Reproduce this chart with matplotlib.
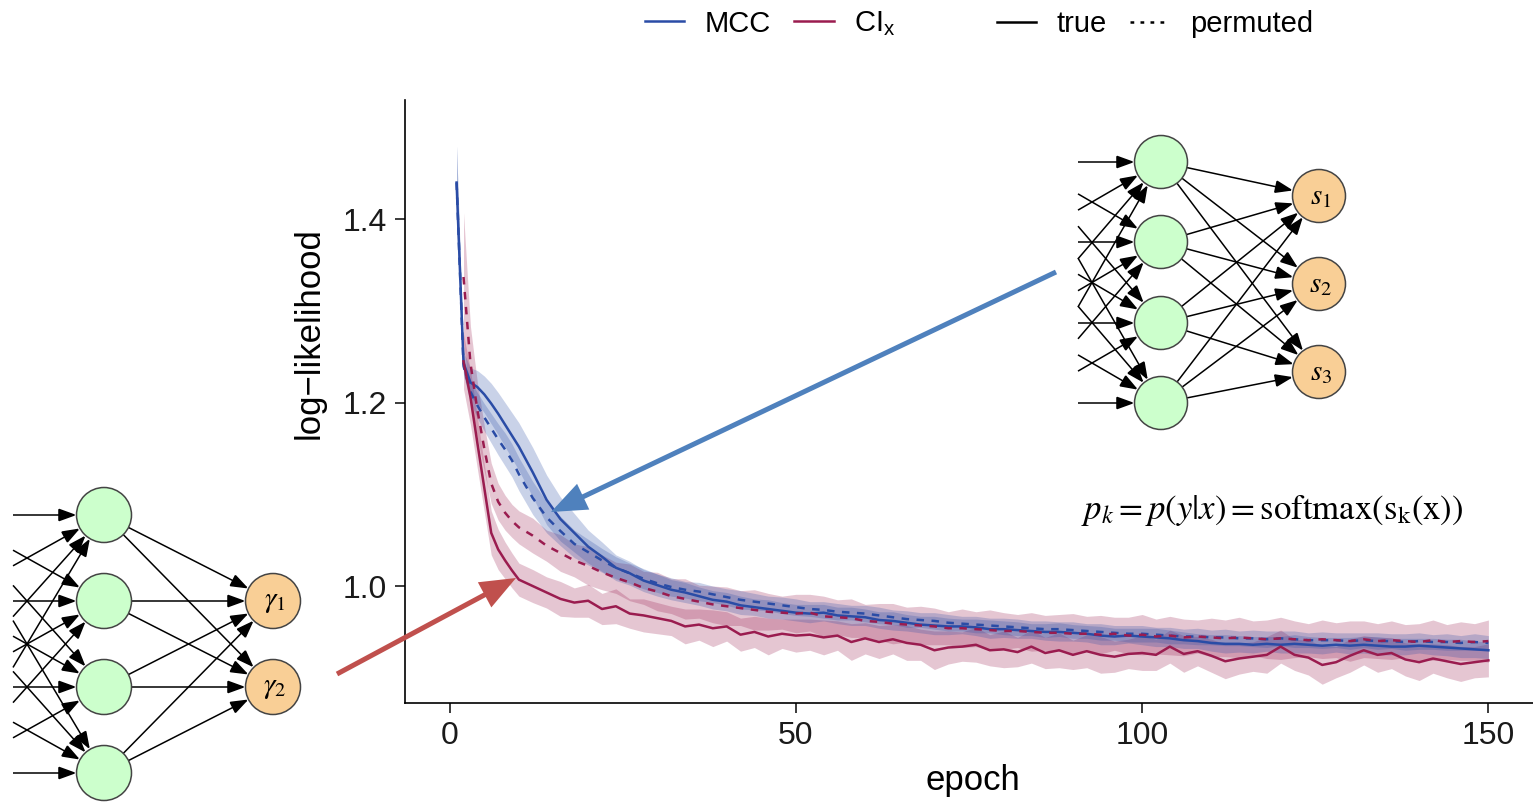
import numpy as np
import matplotlib
matplotlib.use('Agg')
import matplotlib.pyplot as plt
from matplotlib.lines import Line2D
from matplotlib.patches import Circle, FancyArrowPatch

plt.rcParams['font.family'] = ['Liberation Sans', 'DejaVu Sans']

# ---- data ---------------------------------------------------------------
# MCC curves start at epoch 1, CI_x curves at epoch 2
epoch = list(range(1, 10)) + list(range(10, 151, 2))
epoch_ci = epoch[1:]

mcc_true = [1.440, 1.243, 1.222, 1.217, 1.209, 1.199, 1.188, 1.176, 1.164, 1.152,
            1.124, 1.094, 1.073, 1.058, 1.043, 1.032, 1.020, 1.014, 1.006, 1.001,
            0.996, 0.993, 0.989, 0.985, 0.983, 0.979, 0.977, 0.975, 0.973, 0.971,
            0.970, 0.971, 0.968, 0.967, 0.966, 0.963, 0.962, 0.960, 0.958, 0.957,
            0.956, 0.956, 0.955, 0.953, 0.953, 0.952, 0.951, 0.950, 0.950, 0.949,
            0.948, 0.946, 0.945, 0.946, 0.945, 0.944, 0.943, 0.941, 0.940, 0.938,
            0.937, 0.937, 0.936, 0.937, 0.936, 0.937, 0.936, 0.935, 0.936, 0.935,
            0.936, 0.935, 0.934, 0.934, 0.935, 0.934, 0.933, 0.932, 0.931, 0.930]
mcc_perm = [1.440, 1.240, 1.212, 1.197, 1.184, 1.172, 1.160, 1.149, 1.137, 1.122,
            1.096, 1.075, 1.060, 1.046, 1.037, 1.028, 1.020, 1.014, 1.008, 1.003,
            0.999, 0.996, 0.994, 0.991, 0.988, 0.985, 0.983, 0.981, 0.979, 0.977,
            0.975, 0.974, 0.972, 0.971, 0.970, 0.968, 0.966, 0.964, 0.963, 0.962,
            0.960, 0.959, 0.958, 0.957, 0.956, 0.955, 0.954, 0.953, 0.953, 0.952,
            0.951, 0.950, 0.949, 0.948, 0.948, 0.947, 0.946, 0.945, 0.945, 0.944,
            0.944, 0.943, 0.943, 0.942, 0.943, 0.942, 0.941, 0.941, 0.941, 0.940,
            0.941, 0.940, 0.940, 0.939, 0.940, 0.939, 0.939, 0.938, 0.939, 0.938]
ci_true = [1.245, 1.206, 1.156, 1.107, 1.058, 1.040, 1.028, 1.017, 1.007,
           1.000, 0.993, 0.986, 0.982, 0.984, 0.975, 0.978, 0.970, 0.968, 0.965,
           0.962, 0.956, 0.958, 0.954, 0.956, 0.947, 0.950, 0.945, 0.948, 0.946,
           0.947, 0.944, 0.946, 0.939, 0.943, 0.939, 0.942, 0.938, 0.936, 0.930,
           0.933, 0.934, 0.936, 0.930, 0.931, 0.928, 0.934, 0.927, 0.930, 0.925,
           0.929, 0.925, 0.923, 0.926, 0.927, 0.925, 0.934, 0.926, 0.929, 0.924,
           0.918, 0.921, 0.923, 0.925, 0.934, 0.925, 0.922, 0.914, 0.917, 0.924,
           0.930, 0.925, 0.927, 0.920, 0.917, 0.921, 0.918, 0.915, 0.917, 0.919]
ci_perm = [1.337, 1.243, 1.192, 1.150, 1.112, 1.092, 1.080, 1.071, 1.064,
           1.055, 1.044, 1.036, 1.028, 1.022, 1.015, 1.009, 1.004, 0.998, 0.994,
           0.989, 0.986, 0.983, 0.980, 0.978, 0.976, 0.974, 0.972, 0.971, 0.970,
           0.971, 0.967, 0.966, 0.965, 0.962, 0.961, 0.959, 0.958, 0.957, 0.956,
           0.954, 0.954, 0.953, 0.952, 0.951, 0.951, 0.950, 0.949, 0.949, 0.948,
           0.948, 0.947, 0.948, 0.946, 0.947, 0.945, 0.946, 0.944, 0.945, 0.944,
           0.943, 0.944, 0.943, 0.942, 0.943, 0.942, 0.941, 0.942, 0.941, 0.940,
           0.942, 0.940, 0.941, 0.940, 0.939, 0.941, 0.939, 0.940, 0.939, 0.940]

# ribbon half widths
hw_mcc_true = [0.040, 0.012, 0.016, 0.018, 0.020, 0.022, 0.023, 0.024, 0.025, 0.026,
               0.027, 0.027, 0.024, 0.021, 0.018, 0.016, 0.014, 0.013, 0.012, 0.012,
               0.011, 0.011, 0.010, 0.010, 0.010, 0.010, 0.009, 0.010, 0.009, 0.009,
               0.010, 0.009, 0.009, 0.010, 0.009, 0.009, 0.010, 0.009, 0.009, 0.010,
               0.009, 0.008, 0.009, 0.010, 0.009, 0.009, 0.008, 0.009, 0.010, 0.009,
               0.009, 0.010, 0.009, 0.008, 0.009, 0.010, 0.009, 0.009, 0.008, 0.009,
               0.010, 0.009, 0.009, 0.008, 0.009, 0.010, 0.009, 0.009, 0.008, 0.009,
               0.009, 0.010, 0.009, 0.009, 0.008, 0.009, 0.009, 0.010, 0.009, 0.009]
hw_mcc_perm = [0.040, 0.010, 0.012, 0.014, 0.015, 0.016, 0.017, 0.018, 0.018, 0.018,
               0.018, 0.017, 0.016, 0.015, 0.014, 0.013, 0.012, 0.011, 0.011, 0.010,
               0.010, 0.009, 0.010, 0.009, 0.009, 0.010, 0.009, 0.008, 0.009, 0.009,
               0.008, 0.009, 0.009, 0.008, 0.009, 0.009, 0.008, 0.009, 0.008, 0.009,
               0.009, 0.008, 0.009, 0.008, 0.009, 0.009, 0.008, 0.009, 0.008, 0.009,
               0.008, 0.009, 0.008, 0.009, 0.009, 0.008, 0.009, 0.008, 0.009, 0.008,
               0.009, 0.008, 0.009, 0.009, 0.008, 0.009, 0.008, 0.009, 0.008, 0.009,
               0.008, 0.009, 0.008, 0.009, 0.009, 0.008, 0.009, 0.008, 0.009, 0.008]
hw_ci_true = [0.030, 0.030, 0.028, 0.026, 0.024, 0.022, 0.020, 0.019, 0.018,
              0.018, 0.017, 0.019, 0.016, 0.018, 0.017, 0.019, 0.016, 0.018, 0.017,
              0.016, 0.019, 0.017, 0.020, 0.016, 0.018, 0.017, 0.020, 0.016, 0.018,
              0.017, 0.019, 0.016, 0.020, 0.017, 0.018, 0.016, 0.019, 0.017, 0.021,
              0.018, 0.016, 0.019, 0.017, 0.020, 0.016, 0.018, 0.017, 0.019, 0.016,
              0.018, 0.020, 0.017, 0.016, 0.019, 0.017, 0.018, 0.020, 0.016, 0.018,
              0.019, 0.017, 0.016, 0.020, 0.018, 0.017, 0.019, 0.021, 0.017, 0.018,
              0.016, 0.019, 0.017, 0.018, 0.020, 0.016, 0.018, 0.019, 0.017, 0.018]
hw_ci_perm = [0.070, 0.040, 0.030, 0.025, 0.022, 0.020, 0.019, 0.018, 0.018,
              0.019, 0.017, 0.020, 0.018, 0.021, 0.019, 0.017, 0.020, 0.018, 0.021,
              0.019, 0.022, 0.018, 0.020, 0.021, 0.019, 0.022, 0.020, 0.018, 0.021,
              0.020, 0.022, 0.019, 0.021, 0.018, 0.020, 0.022, 0.019, 0.021, 0.020,
              0.018, 0.021, 0.019, 0.022, 0.020, 0.018, 0.021, 0.019, 0.020, 0.022,
              0.019, 0.021, 0.018, 0.020, 0.022, 0.019, 0.021, 0.020, 0.018, 0.021,
              0.020, 0.022, 0.019, 0.021, 0.023, 0.020, 0.018, 0.021, 0.019, 0.022,
              0.020, 0.019, 0.021, 0.018, 0.020, 0.022, 0.019, 0.021, 0.020, 0.023]

xticks = [0, 50, 100, 150]
yticks = [1.0, 1.2, 1.4]
ytick_labels = ['1.0', '1.2', '1.4']

BLUE = '#2a4ca6'
RED = '#9a1c4f'
LW = 1.8

# ---- figure ---------------------------------------------------------------
fig = plt.figure(figsize=(15.33, 8.02), dpi=100)
# panel runs a bit past the right edge of the canvas, as in the reference
ax = fig.add_axes([405 / 1533, 99 / 802, 1135 / 1533, 603 / 802])

def band(x, y, hw, color):
    y = np.array(y)
    hw = np.array(hw)
    ax.fill_between(x, y - hw, y + hw, color=color, alpha=0.25, linewidth=0)

band(epoch_ci, ci_true, hw_ci_true, RED)
band(epoch_ci, ci_perm, hw_ci_perm, RED)
band(epoch, mcc_true, hw_mcc_true, BLUE)
band(epoch, mcc_perm, hw_mcc_perm, BLUE)

ax.plot(epoch, mcc_true, color=BLUE, lw=LW)
ax.plot(epoch, mcc_perm, color=BLUE, lw=LW, dashes=(3, 3))
ax.plot(epoch_ci, ci_true, color=RED, lw=LW)
ax.plot(epoch_ci, ci_perm, color=RED, lw=LW, dashes=(3, 3))

ax.set_xlim(-6.45, 157.45)
ax.set_ylim(0.8725, 1.530)
ax.set_xticks(xticks)
ax.set_yticks(yticks)
ax.set_yticklabels(ytick_labels)
for s in ['top', 'right']:
    ax.spines[s].set_visible(False)
for s in ['left', 'bottom']:
    ax.spines[s].set_linewidth(1.2)
ax.tick_params(length=7, width=1.2, pad=6, labelsize=23, colors='#1a1a1a')
ax.set_xlabel('epoch', fontsize=25, labelpad=9)
# the y title sits above the panel centre in the reference
ax.set_ylabel('log\u2212likelihood', fontsize=25, labelpad=12, y=0.614)

# legends on top
col_handles = [Line2D([], [], color=BLUE, lw=LW), Line2D([], [], color=RED, lw=LW)]
leg1 = fig.legend(col_handles, ['MCC', r'CI$_\mathregular{x}$'], loc='center left',
                  bbox_to_anchor=(645 / 1533, 1 - 24 / 802), ncol=2, frameon=False,
                  fontsize=21, handlelength=1.35, handletextpad=0.7, columnspacing=0.8,
                  borderpad=0, borderaxespad=0)
lt_handles = [Line2D([], [], color='black', lw=LW),
              Line2D([], [], color='black', lw=LW, dashes=(1.5, 2.5))]
leg2 = fig.legend(lt_handles, ['true', 'permuted'], loc='center left',
                  bbox_to_anchor=(997 / 1533, 1 - 24 / 802), ncol=2, frameon=False,
                  fontsize=21, handlelength=1.35, handletextpad=0.7, columnspacing=0.8,
                  borderpad=0, borderaxespad=0)

# ---- overlay in pixel coords for the network sketches and arrows ---------
ov = fig.add_axes([0, 0, 1, 1])
ov.set_xlim(0, 1533)
ov.set_ylim(802, 0)
ov.set_axis_off()

def arrow(p0, p1, lw=1.1, color='black', style='-|>,head_length=0.55,head_width=0.2', ms=20):
    a = FancyArrowPatch(p0, p1, arrowstyle=style, mutation_scale=ms, lw=lw, color=color,
                        shrinkA=0, shrinkB=0, joinstyle='miter', capstyle='butt')
    ov.add_patch(a)

def edge_point(c, other, r):
    c = np.array(c, float)
    d = np.array(other, float) - c
    return c + r * d / np.hypot(*d)

def draw_net(in_x, clip_x, hid_x, hid_ys, out_x, out_ys, labels, r):
    # inputs sit off-canvas, lines cut where the picture was cropped
    for yi in hid_ys:
        for yh in hid_ys:
            t = (clip_x - in_x) / (hid_x - in_x)
            start = (clip_x, yi + t * (yh - yi))
            end = edge_point((hid_x, yh), start, r)
            arrow(start, end)
    for yh in hid_ys:
        for yo in out_ys:
            start = edge_point((hid_x, yh), (out_x, yo), r)
            end = edge_point((out_x, yo), (hid_x, yh), r)
            arrow(start, end)
    for yh in hid_ys:
        ov.add_patch(Circle((hid_x, yh), r, facecolor='#ccffcc', edgecolor='#444444', lw=1.1, zorder=3))
    for yo, lab in zip(out_ys, labels):
        ov.add_patch(Circle((out_x, yo), r, facecolor='#f9cf96', edgecolor='#444444', lw=1.1, zorder=3))
        ov.text(out_x + 2, yo, lab, ha='center', va='center', fontsize=21,
                math_fontfamily='stix', zorder=4)

draw_net(-50, 13, 104, [515, 601, 687, 773], 273, [601, 687],
         [r'$\gamma_1$', r'$\gamma_2$'], 27.5)
draw_net(1023, 1078, 1161, [162, 242, 323, 403], 1319, [196, 284, 372],
         [r'$s_1$', r'$s_2$', r'$s_3$'], 26.5)

# pointer arrows into the chart
arrow((1056, 272), (551, 512), lw=3.6, color='#4f81bd',
      style='-|>,head_length=0.95,head_width=0.38', ms=20)
arrow((337, 674), (516, 578), lw=3.6, color='#c0504d',
      style='-|>,head_length=0.95,head_width=0.38', ms=20)

ov.text(1272, 510, r'$p_k = p(y|x) = \mathrm{softmax}(\mathrm{s}_\mathrm{k}(\mathrm{x}))$',
        ha='center', va='center', fontsize=25, math_fontfamily='stix')

plt.savefig('out.png', dpi=100)
